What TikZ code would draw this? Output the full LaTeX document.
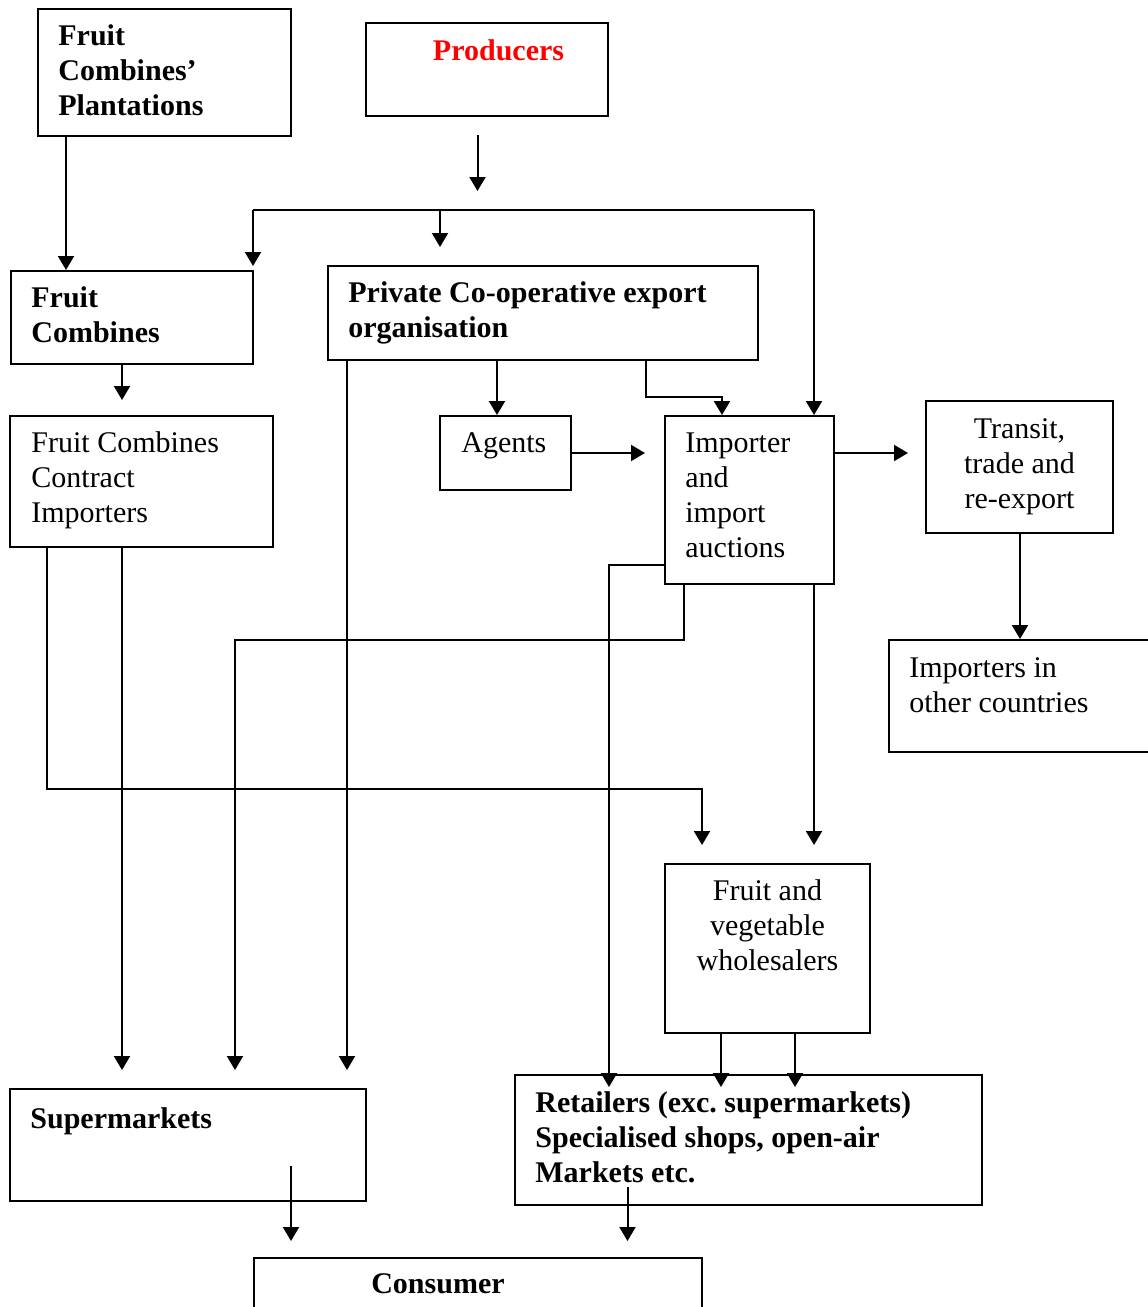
\documentclass[tikz,border=0pt]{standalone}
\usepackage{fontspec}
\setmainfont{Liberation Serif}
\usetikzlibrary{arrows.meta,fit}
\definecolor{prodred}{RGB}{255,0,0}
\frenchspacing
\begin{document}
\begin{tikzpicture}[x=0.5pt,y=-0.5pt,
  box/.style={draw,line width=1pt,inner sep=0pt},
  txt/.style={inner sep=0pt,align=left,anchor=north west,font=\fontsize{15}{17.5}\selectfont},
  ctxt/.style={inner sep=0pt,align=center,anchor=north,font=\fontsize{15}{17.5}\selectfont},
  btxt/.style={txt,font=\fontsize{15}{17.5}\selectfont\bfseries},
  line/.style={line width=1pt},
  arr/.style={line width=1pt,-{Triangle[length=7pt,width=8pt]}}]
\useasboundingbox (0,0) rectangle (1147,1307);
\def\sr{\rule{0pt}{12pt}}
% boxes
\node[box,fit={(38,9) (291,136)}] (plant) {};
\node[box,fit={(366,23) (608,116)}] (prod) {};
\node[box,fit={(11,271) (253,364)}] (fcomb) {};
\node[box,fit={(328,266) (758,360)}] (coop) {};
\node[box,fit={(10,416) (273,547)}] (fcci) {};
\node[box,fit={(440,416) (571,490)}] (agents) {};
\node[box,fit={(665,416) (834,584)}] (imp) {};
\node[box,fit={(926,401) (1113,533)}] (transit) {};
\node[box,fit={(889,640) (1170,752)}] (other) {};
\node[box,fit={(665,864) (870,1033)}] (whole) {};
\node[box,fit={(10,1089) (366,1201)}] (super) {};
\node[box,fit={(515,1075) (982,1205)}] (retail) {};
\node[box,fit={(254,1258) (702,1340)}] (cons) {};
% texts
\node[btxt] (plantT) at (58,21) {\sr Fruit\\Combines’\\Plantations};
\node[ctxt,font=\fontsize{15}{17.5}\selectfont\bfseries,text=prodred] (prodT) at (498.5,36) {\sr Producers};
\node[btxt] (fcombT) at (31,283) {\sr Fruit\\Combines};
\node[btxt] (coopT) at (348,278) {\sr Private Co-operative export\\organisation};
\node[txt] (fcciT) at (31,428) {\sr Fruit Combines\\Contract\\Importers};
\node[txt] (agentsT) at (461,428) {\sr Agents};
\node[txt] (impT) at (685,428) {\sr Importer\\and\\import\\auctions};
\node[ctxt] (transitT) at (1019.5,414) {\sr Transit,\\trade and\\re-export};
\node[txt] (otherT) at (909,653) {\sr Importers in\\other countries};
\node[ctxt] (wholeT) at (767.5,876) {\sr Fruit and\\vegetable\\wholesalers};
\node[btxt] (superT) at (30,1104) {\sr Supermarkets};
\node[btxt] (retailT) at (535,1088) {\sr Retailers (exc. supermarkets)\\Specialised shops, open-air\\Markets etc.};
\node[ctxt,font=\fontsize{15}{17.5}\selectfont\bfseries] (consT) at (438,1269) {\sr Consumer};
% coordinates for columns / free ends
\coordinate (c66) at (66,0);
\coordinate (pA) at (477.5,135);
\coordinate (pB) at (477.5,191);
\coordinate (busL) at (253,210);
\coordinate (busLtip) at (253,266);
\coordinate (busM) at (440,210);
\coordinate (busR) at (814,210);
\coordinate (busMtip) at (440,247);
\coordinate (fcTip) at (122,400);
\coordinate (c497) at (497,0);
\coordinate (jog1) at (646,397);
\coordinate (jog2) at (722,397);
\coordinate (c347) at (347,0);
\coordinate (t347) at (347,1070);
\coordinate (agTip) at (645,453);
\coordinate (impR) at (834,453);
\coordinate (trTip) at (908,453);
\coordinate (c1020) at (1020,0);
\coordinate (s684) at (684,640);
\coordinate (s235) at (235,640);
\coordinate (t235) at (235,1070);
\coordinate (r565) at (609,565);
\coordinate (t609) at (609,1087);
\coordinate (c814) at (814,0);
\coordinate (t814) at (814,845);
\coordinate (c122) at (122,0);
\coordinate (t122) at (122,1070);
\coordinate (c47) at (47,0);
\coordinate (w789) at (47,789);
\coordinate (w702) at (702,789);
\coordinate (t702) at (702,845);
\coordinate (c721) at (721,0);
\coordinate (t721) at (721,1087);
\coordinate (c795) at (795,0);
\coordinate (t795) at (795,1087);
\coordinate (sA) at (291,1166);
\coordinate (sB) at (291,1241);
\coordinate (rA) at (627.5,1187);
\coordinate (rB) at (627.5,1241);
% connectors
\draw[arr] (plant.south -| c66) -- (fcomb.north -| c66);
\draw[arr] (pA) -- (pB);
\draw[line] (busL) -- (busR);
\draw[arr] (busL) -- (busLtip);
\draw[arr] (busM) -- (busMtip);
\draw[arr] (busR) -- (imp.north -| busR);
\draw[arr] (fcomb.south -| c122) -- (fcTip);
\draw[arr] (coop.south -| c497) -- (agents.north -| c497);
\draw[arr] (coop.south -| jog1) -- (jog1) -- (jog2) -- (imp.north -| jog2);
\draw[arr] (coop.south -| c347) -- (t347);
\draw[arr] (agents.east) -- (agTip);
\draw[arr] (impR) -- (trTip);
\draw[arr] (transit.south -| c1020) -- (other.north -| c1020);
\draw[arr] (imp.south -| s684) -- (s684) -- (s235) -- (t235);
\draw[arr] (imp.west |- r565) -- (r565) -- (t609);
\draw[arr] (imp.south -| c814) -- (t814);
\draw[arr] (fcci.south -| c122) -- (t122);
\draw[arr] (fcci.south -| c47) -- (w789) -- (w702) -- (t702);
\draw[arr] (whole.south -| c721) -- (t721);
\draw[arr] (whole.south -| c795) -- (t795);
\draw[arr] (sA) -- (sB);
\draw[arr] (rA) -- (rB);
\end{tikzpicture}
\end{document}
